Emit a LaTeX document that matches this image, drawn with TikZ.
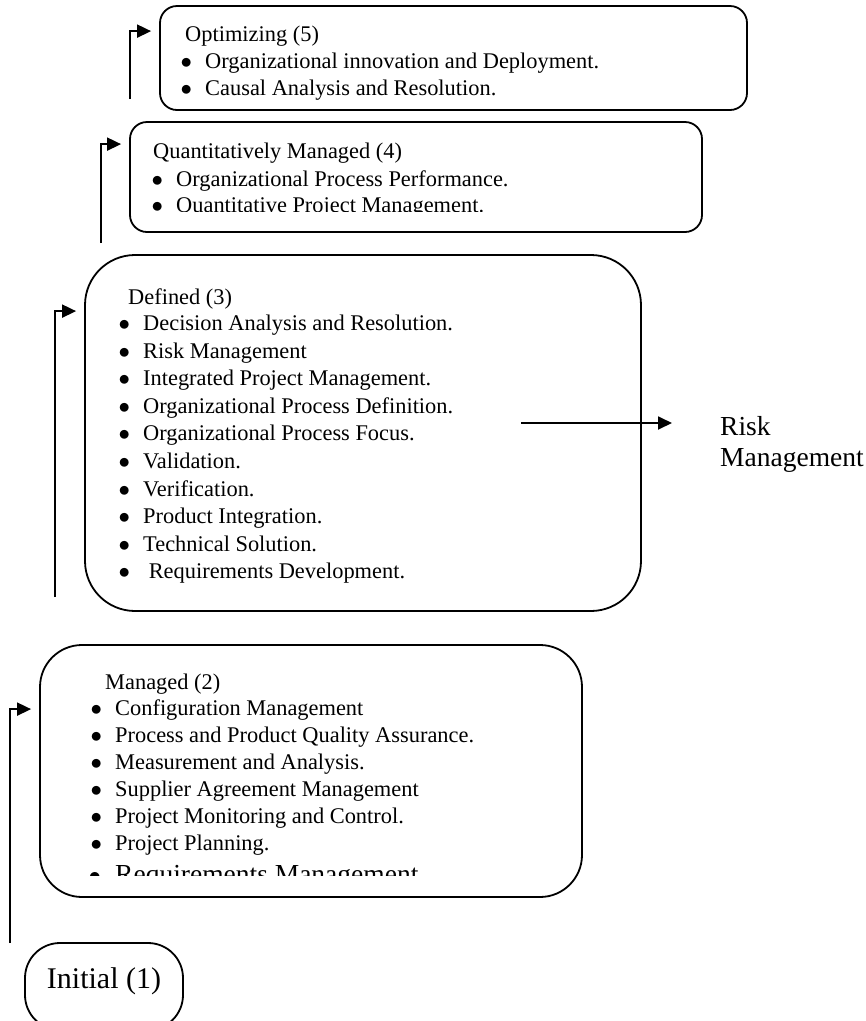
\documentclass[tikz,border=0pt]{standalone}
\usepackage{fontspec}
\setmainfont{Liberation Serif}
\usetikzlibrary{arrows.meta,shapes}
\tikzstyle{level}=[draw,line width=1.8pt,inner sep=0pt]
\tikzstyle{item}=[anchor=base west,inner sep=0pt,font=\fontsize{22.4}{27}\selectfont]
\tikzstyle{up} = [draw,line width=1.8pt,-{Triangle[length=14pt,width=13pt]},shorten >=8pt]
\newcommand{\bul}{\makebox[22pt][l]{\hspace{-2.5pt}\scalebox{1.1}{$\bullet$}}}

\begin{document}
\begin{tikzpicture}[x=1pt,y=-1pt]
    \useasboundingbox (0,0) rectangle (866,1021);
    \clip (0,0) rectangle (866,1021);
    % First we draw the level boxes
    \node[level,rounded corners=17pt,minimum width=587pt,minimum height=104pt] (opt) at (453.5,58) {};
    \node[level,rounded corners=17pt,minimum width=572pt,minimum height=110pt] (qm) at (416,177) {};
    \node[level,rounded corners=50pt,minimum width=556pt,minimum height=356pt] (defd) at (363,433) {};
    \node[level,rounded corners=42pt,minimum width=542pt,minimum height=252pt] (mgd) at (311,771) {};
    \node[level,rounded corners=35pt,minimum width=158pt,minimum height=87pt,text depth=17pt,font=\fontsize{30}{36}\selectfont] (initial) at (104,986.5) {Initial (1)};
    % Titles and process areas
    \node[item] (opttitle) at (185,41) {Optimizing (5)};
    \foreach \n/\txt in {1/Organizational innovation and Deployment., 2/Causal Analysis and Resolution.}
        \node[item] (opt\n) at (183,{41+27*\n}) {\bul\txt};
    \node[item] (qmtitle) at (153,158) {Quantitatively Managed (4)};
    \node[item] (qm1) at (154,186) {\bul Organizational Process Performance.};
    \begin{scope}
        \clip (130,122) rectangle (702,211);
        \node[item] (qm2) at (154,212) {\bul Quantitative Project Management.};
    \end{scope}
    \node[item] (defdtitle) at (128,304) {Defined (3)};
    \foreach \n/\txt in {1/Decision Analysis and Resolution., 2/Risk Management, 3/Integrated Project Management.,
        4/Organizational Process Definition., 5/Organizational Process Focus., 6/Validation., 7/Verification.,
        8/Product Integration., 9/Technical Solution., 10/\ Requirements Development.}
        \node[item] (defd\n) at (121,{302.9+27.6*\n}) {\bul\txt};
    \node[item] (mgdtitle) at (105,689) {Managed (2)};
    \foreach \n/\txt in {1/Configuration Management, 2/Process and Product Quality Assurance., 3/Measurement and Analysis.,
        4/Supplier Agreement Management, 5/Project Monitoring and Control., 6/Project Planning.}
        \node[item] (mgd\n) at (93,{688+27*\n}) {\bul\txt};
    \begin{scope}
        \clip (40,645) rectangle (582,875);
        \node[item,font=\fontsize{27.5}{31}\selectfont] (mgd7) at (92,883) {\makebox[23pt][l]{\hspace{-3.5pt}$\bullet$}Requirements Management};
    \end{scope}
    \node[anchor=west,inner sep=0pt,align=left,font=\fontsize{27.5}{31}\selectfont] (risk) at (720,444) {Risk\\Management};
    % Connect the levels with arrows
    \coordinate (initfoot) at (10,943);
    \coordinate (mgdfoot) at (55,597);
    \coordinate (defdfoot) at (101,243);
    \coordinate (qmfoot) at (130,99);
    \coordinate (riskfrom) at (521,423);
    \path[up] (initfoot) |- ([yshift=-65pt]mgd.north west);
    \path[up] (mgdfoot) |- ([yshift=-57pt]defd.north west);
    \path[up] (defdfoot) |- ([yshift=-23pt]qm.north west);
    \path[up] (qmfoot) |- ([yshift=-26pt]opt.north west);
    \path[up,shorten >=48pt] (riskfrom) -- (risk.west |- riskfrom);
\end{tikzpicture}
\end{document}
